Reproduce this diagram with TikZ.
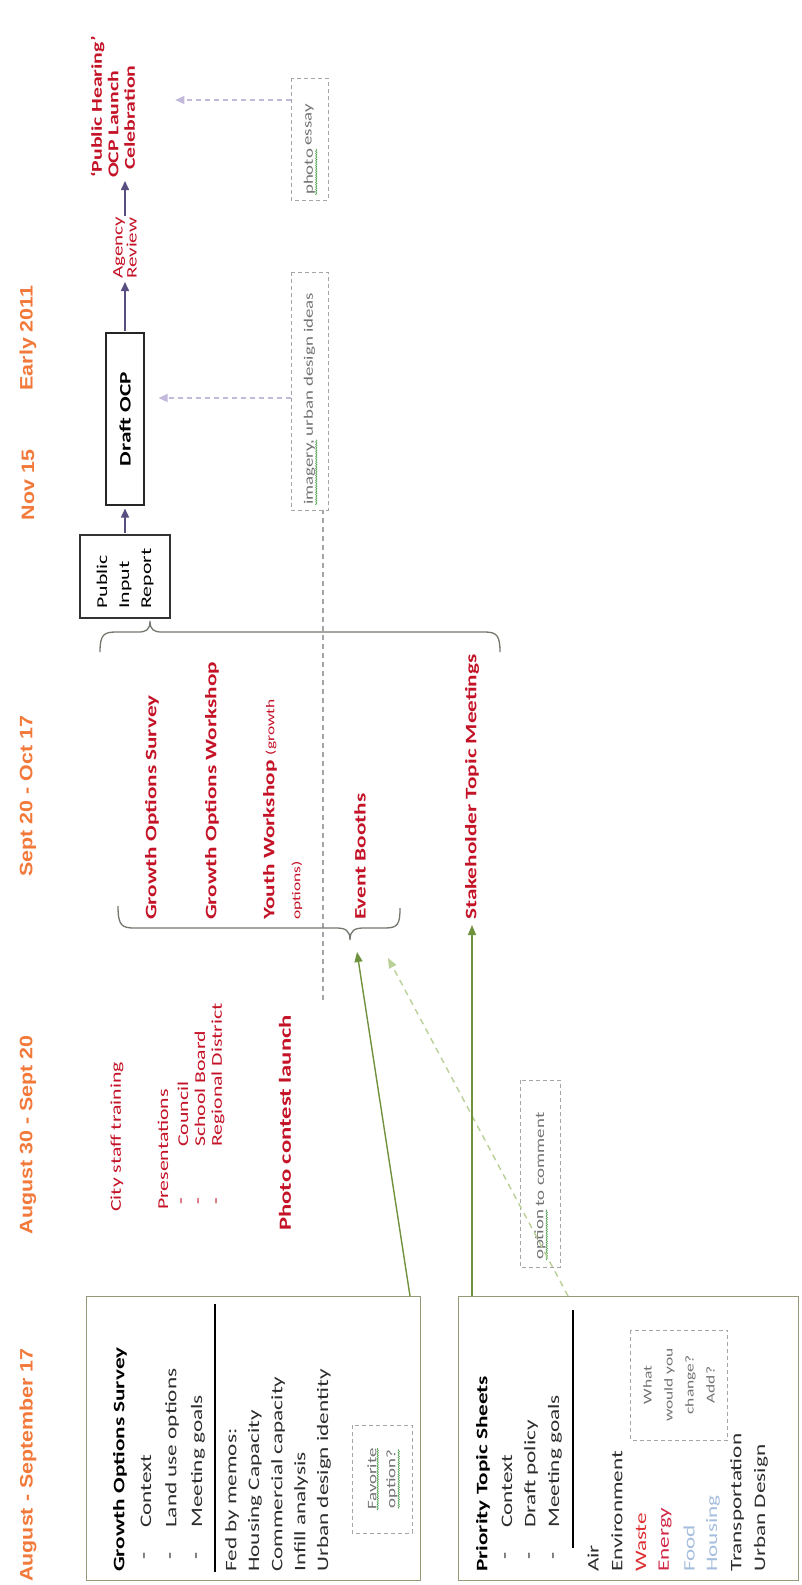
\documentclass[tikz,border=0pt]{standalone}
\usepackage{fontspec}
\setmainfont{Carlito}[FakeStretch=1.45]
\newfontfamily\hdrfont[FakeStretch=1.19]{Liberation Sans}
\usetikzlibrary{arrows.meta,decorations.pathmorphing}
\definecolor{hdrC}{RGB}{242,121,58}
\definecolor{redC}{RGB}{196,18,38}
\definecolor{txtC}{RGB}{45,45,45}
\definecolor{grayC}{RGB}{115,115,115}
\definecolor{dashC}{RGB}{165,165,165}
\definecolor{boxC}{RGB}{150,152,120}
\definecolor{purpC}{RGB}{88,78,128}
\definecolor{lpurpC}{RGB}{195,185,220}
\definecolor{greenC}{RGB}{112,145,62}
\definecolor{lgreenC}{RGB}{185,208,150}
\definecolor{braceC}{RGB}{115,120,110}
\definecolor{wasteC}{RGB}{222,48,52}
\definecolor{energyC}{RGB}{210,40,70}
\definecolor{foodC}{RGB}{165,190,222}
\definecolor{squigC}{RGB}{60,150,60}
\tikzset{
  hdr/.style={rotate=90, inner sep=0pt, text=hdrC, font=\hdrfont\bfseries\fontsize{18}{21}\selectfont},
  rtx/.style={rotate=90, anchor=west, inner sep=0pt},
  redb/.style={rtx, text=redC, font=\bfseries\fontsize{16}{19}\selectfont},
  redn/.style={rtx, text=redC, font=\fontsize{15}{18}\selectfont},
  btx/.style={rtx, text=txtC, font=\fontsize{16}{19}\selectfont},
  btb/.style={rtx, text=black, font=\bfseries\fontsize{16}{19}\selectfont},
  smallg/.style={rtx, text=grayC, font=\fontsize{13}{16}\selectfont},
  dbox/.style={draw=dashC, line width=0.8pt, dash pattern=on 4pt off 3pt, inner sep=0pt},
  obox/.style={draw=boxC, line width=1.3pt, inner sep=0pt},
  parrow/.style={draw=purpC, line width=1.6pt, -{Triangle[length=9pt,width=8pt]}, shorten >=3pt, shorten <=1pt},
  lparrow/.style={draw=lpurpC, line width=1.3pt, dash pattern=on 5pt off 4pt, -{Triangle[length=9pt,width=8pt]}},
  garrow/.style={draw=greenC, line width=1.4pt, -{Triangle[length=10pt,width=8pt]}},
  lgarrow/.style={draw=lgreenC, line width=1.4pt, dash pattern=on 6pt off 5pt, -{Triangle[length=10pt,width=8pt]}},
  vdash/.style={draw=dashC, line width=1.2pt, dash pattern=on 5pt off 4pt},
  bracep/.style={draw=braceC, line width=1.3pt},
  squig/.style={draw=squigC, line width=0.5pt, decorate, decoration={snake, amplitude=0.7pt, segment length=2.4pt}}
}
\begin{document}
\begin{tikzpicture}[x=1pt,y=-1pt]
\useasboundingbox (0,0) rectangle (801,1585);
\fill[white] (0,0) rectangle (801,1585);

% headers
\node[hdr] (h1) at (28,1465) {August - September 17};
\node[hdr] (h2) at (28,1135) {August 30 - Sept 20};
\node[hdr] (h3) at (28,796) {Sept 20 - Oct 17};
\node[hdr] (h4) at (28,485) {Nov 15};
\node[hdr] (h5) at (28,338) {Early 2011};

% top chain
\node[rtx, text=redC, font=\bfseries\fontsize{15}{16.5}\selectfont, align=left] (ph) at (113,178) {‘Public Hearing’\\OCP Launch\\\hspace*{8pt}Celebration};
\node[rtx, text=redC, font=\fontsize{14.5}{14}\selectfont, align=left] (ag) at (125,279) {Agency\\Review};
\node[draw=black!85, line width=1.1pt, rotate=90, minimum width=172pt, minimum height=38pt, font=\bfseries\fontsize{16}{19}\selectfont] (draft) at (125,419) {Draft OCP};
\node[draw=black!80, line width=1.1pt, rotate=90, minimum width=83pt, minimum height=90pt, font=\fontsize{15}{22}\selectfont, align=left, text width=64pt] (pir) at (125,576.5) {Public\\Input\\Report};
\draw[parrow] (pir.east) -- (draft.west);
\draw[parrow] (draft.east) -- (ag.west);
\draw[parrow] (ag.east) -- (ag.east |- ph.west);

% photo essay / imagery boxes
\node[dbox, rotate=90, minimum width=122pt, minimum height=37pt] (pe) at (309.5,139) {};
\node[smallg] (pe1) at (309.5,195) {photo};
\node[smallg] (pe2) at (pe1.east) {\hspace{3pt}essay};
\draw[squig] ([xshift=1pt]pe1.south west) -- ([xshift=1pt]pe1.south east);
\coordinate (pearr) at (291,100);
\draw[lparrow, shorten >=40pt] (pearr) -- (pearr -| ph.south);

\node[dbox, rotate=90, minimum width=238pt, minimum height=37pt] (im) at (309.5,391) {};
\node[smallg] (im1) at (309.5,505) {imagery,};
\node[smallg] (im2) at (im1.east) {\hspace{3pt}urban design ideas};
\draw[squig] ([xshift=1pt]im1.south west) -- ([xshift=1pt]im1.south east);
\coordinate (imarr) at (291,398);
\draw[lparrow, shorten >=14pt] (imarr) -- (imarr -| draft.south);

% column 2
\node[redn] (cst) at (117,1212) {City staff training};
\node[redn] (pres) at (163,1210) {Presentations};
\node[redn] (d21) at (183,1205) {-};
\node[redn] (cou) at (183,1147) {Council};
\node[redn] (d22) at (200,1205) {-};
\node[redn] (sch) at (200,1147) {School Board};
\node[redn] (d23) at (218,1205) {-};
\node[redn] (reg) at (218,1147) {Regional District};
\node[redb, font=\bfseries\fontsize{17}{20}\selectfont] (pcl) at (285,1231) {Photo contest launch};
\coordinate (imb) at (323,510);
\coordinate (vle) at (323,1000);
\draw[vdash] (vle) -- (imb);

% column 3
\node[redb] (gos3) at (152,920) {Growth Options Survey};
\node[redb] (gow) at (212,920) {Growth Options Workshop};
\node[redb] (yw) at (270,920) {Youth Workshop {\mdseries\fontsize{12}{14}\selectfont(growth}};
\node[rtx, text=redC, font=\fontsize{12}{14}\selectfont] (opt) at (297,920) {options)};
\node[redb] (eb) at (360,920) {Event Booths};
\node[redb] (stk) at (472,920) {Stakeholder Topic Meetings};

% braces
\draw[bracep] (100,652) .. controls (100,634) and (104,632) .. (117,632) -- (138,632) .. controls (146,632) and (150,630) .. (150,621) .. controls (150,630) and (154,632) .. (162,632) -- (485,632) .. controls (497,632) and (500,636) .. (500,652);
\draw[bracep] (118,906) .. controls (118,926) and (122,928) .. (135,928) -- (336,928) .. controls (345,928) and (350,930) .. (350,940) .. controls (350,930) and (355,928) .. (364,928) -- (385,928) .. controls (398,928) and (400,924) .. (400,908);

% boxes
\node[obox, minimum width=334pt, minimum height=284pt, anchor=north west] (box1) at (86,1296) {};
\node[obox, minimum width=340pt, minimum height=284pt, anchor=north west] (box2) at (458,1296) {};

% box 1 content
\node[btb] (b1t) at (120,1572) {Growth Options Survey};
\node[btx] (b1d1) at (146,1560) {-};
\node[btx] (b1c) at (146,1528) {Context};
\node[btx] (b1d2) at (172,1560) {-};
\node[btx] (b1l) at (172,1528) {Land use options};
\node[btx] (b1d3) at (198,1560) {-};
\node[btx] (b1m) at (198,1528) {Meeting goals};
\draw[line width=2pt] (215,1572) -- (215,1304);
\node[btx] (b1f) at (232,1572) {Fed by memos:};
\node[btx] (b1h) at (255,1572) {Housing Capacity};
\node[btx] (b1co) at (278,1572) {Commercial capacity};
\node[btx] (b1i) at (301,1572) {Infill analysis};
\node[btx] (b1u) at (324,1572) {Urban design identity};
\node[dbox, rotate=90, minimum width=108pt, minimum height=60pt] (fav) at (382,1479) {};
\node[smallg, anchor=center] (fav1) at (372,1479) {Favorite};
\node[smallg, anchor=center] (fav2) at (392,1479) {option?};
\draw[squig] ([xshift=1pt]fav1.south west) -- ([xshift=1pt]fav1.south east);
\draw[squig] ([xshift=1pt]fav2.south west) -- ([xshift=1pt]fav2.south east);

% box 2 content
\node[btb] (b2t) at (483,1572) {Priority Topic Sheets};
\node[btx] (b2d1) at (507,1560) {-};
\node[btx] (b2c) at (507,1528) {Context};
\node[btx] (b2d2) at (531,1560) {-};
\node[btx] (b2p) at (531,1528) {Draft policy};
\node[btx] (b2d3) at (555,1560) {-};
\node[btx] (b2m) at (555,1528) {Meeting goals};
\draw[line width=2pt] (573,1548) -- (573,1310);
\node[btx] (b2a) at (593,1572) {Air};
\node[btx] (b2e) at (617,1572) {Environment};
\node[btx, text=wasteC] (b2w) at (641,1572) {Waste};
\node[btx, text=energyC] (b2en) at (665,1572) {Energy};
\node[btx, text=foodC] (b2f) at (689,1572) {Food};
\node[btx, text=foodC] (b2h) at (713,1572) {Housing};
\node[btx] (b2tr) at (737,1572) {Transportation};
\node[btx] (b2u) at (761,1572) {Urban Design};
\node[dbox, rotate=90, minimum width=110pt, minimum height=97pt] (whb) at (679,1385) {};
\node[rotate=90, align=center, text=grayC, font=\fontsize{12}{21}\selectfont] (wht) at (679,1385) {What\\would you\\change?\\Add?};

% option box
\node[dbox, rotate=90, minimum width=187pt, minimum height=40pt] (optb) at (540,1173.5) {};
\node[smallg] (op1) at (540,1260) {option};
\node[smallg] (op2) at (op1.east) {\hspace{3pt}to comment};
\draw[squig] ([xshift=1pt]op1.south west) -- ([xshift=1pt]op1.south east);

% green arrows
\coordinate (a1s) at (410,1296);
\coordinate (a1e) at (357,952);
\draw[garrow] (a1s) -- (a1e);
\coordinate (a2s) at (568,1296);
\coordinate (a2e) at (388,958);
\draw[lgarrow] (a2s) -- (a2e);
\draw[garrow, shorten >=5pt] (stk.west |- box2.north) -- (stk.west);
\end{tikzpicture}
\end{document}
